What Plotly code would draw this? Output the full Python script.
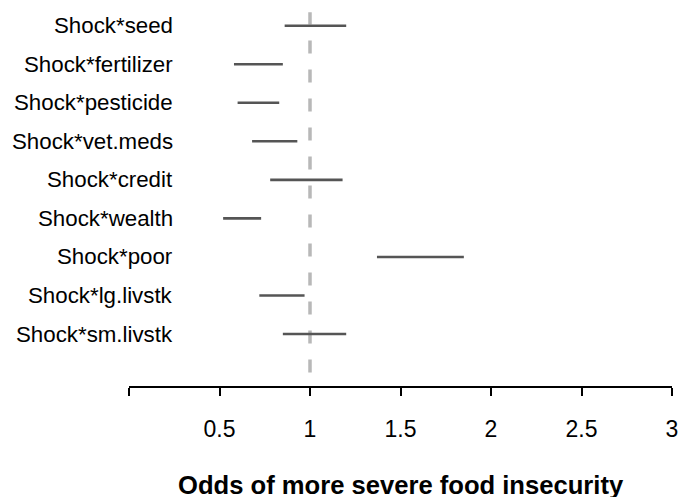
import plotly.graph_objects as go

terms = ["Shock*seed", "Shock*fertilizer", "Shock*pesticide", "Shock*vet.meds",
         "Shock*credit", "Shock*wealth", "Shock*poor", "Shock*lg.livstk", "Shock*sm.livstk"]
lower = [0.86, 0.58, 0.60, 0.68, 0.78, 0.52, 1.37, 0.72, 0.85]
upper = [1.20, 0.85, 0.83, 0.93, 1.18, 0.73, 1.85, 0.97, 1.20]
tick_vals = [0, 0.5, 1, 1.5, 2, 2.5, 3]
tick_text = ["", "0.5", "1", "1.5", "2", "2.5", "3"]
x_title = "Odds of more severe food insecurity"

n = len(terms)
rows = [n - i for i in range(n)]

xs, ys = [], []
for lo, hi, r in zip(lower, upper, rows):
    xs += [lo, hi, None]
    ys += [r, r, None]

fig = go.Figure()
fig.add_shape(type="line", x0=1, x1=1, y0=0, y1=9.35, xref="x", yref="y",
              line=dict(color="#b8b8b8", width=3.5, dash="13px,16px"), layer="below")
fig.add_trace(go.Scatter(x=xs, y=ys, mode="lines",
                         line=dict(color="#555555", width=2.6), showlegend=False,
                         hoverinfo="skip"))

for t, r in zip(terms, rows):
    fig.add_annotation(x=0.256, y=r, xref="x", yref="y", text=t, showarrow=False,
                       xanchor="right", yanchor="middle",
                       font=dict(family="Liberation Sans, Arial", size=22.3, color="black"))

fig.add_annotation(x=0.5, y=-0.2575, xref="paper", yref="paper", text="<b>" + x_title + "</b>",
                   showarrow=False, xanchor="center", yanchor="middle",
                   font=dict(family="Liberation Sans, Arial", size=25.6, color="black"))

fig.update_layout(
    width=678, height=497,
    margin=dict(l=128.5, r=6.3, t=0, b=111),
    paper_bgcolor="white", plot_bgcolor="white",
    showlegend=False,
)
fig.update_xaxes(range=[0, 3], tickvals=tick_vals, ticktext=tick_text,
                 showline=True, linecolor="black", linewidth=2,
                 ticks="outside", ticklen=8, tickwidth=2, tickcolor="black",
                 showgrid=False, zeroline=False, ticklabelstandoff=13,
                 ticklabeloverflow="allow",
                 tickfont=dict(family="Liberation Sans, Arial", size=23, color="black"))
fig.update_yaxes(range=[-0.349, 9.667], showticklabels=False, showgrid=False,
                 zeroline=False, showline=False, ticks="")

fig.write_html("out.html", post_script="document.body.style.margin='0';",
               config={"displayModeBar": False})
